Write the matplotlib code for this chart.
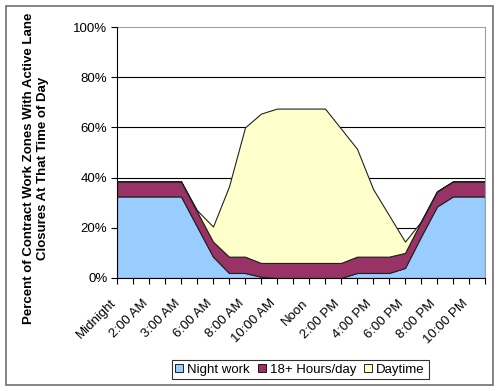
import matplotlib
matplotlib.use("Agg")
import matplotlib.pyplot as plt
from matplotlib.patches import Patch, Rectangle
from matplotlib.transforms import ScaledTranslation
import numpy as np

plt.rcParams['font.family'] = ['Liberation Sans', 'DejaVu Sans']

# hourly values (percent), midnight .. 11 PM
night_work = [32.5, 32.5, 32.5, 32.5, 32.5, 20.5, 8.5, 2, 2, 0.5, 0, 0,
              0, 0, 0, 2, 2, 2, 4, 16.5, 28.5, 32.5, 32.5, 32.5]
hours_18 = [6, 6, 6, 6, 6, 6, 6, 6.5, 6.5, 5.5, 6, 6,
            6, 6, 6, 6.5, 6.5, 6.5, 6, 6, 6, 6, 6, 6]
daytime = [0, 0, 0, 0, 0, 0.5, 6, 28, 51.5, 59.5, 61.5, 61.5,
           61.5, 61.5, 53.5, 43, 27, 16.5, 4.5, 0, 0, 0, 0, 0]

tick_labels = ["Midnight", "2:00 AM", "3:00 AM", "6:00 AM", "8:00 AM", "10:00 AM",
               "Noon", "2:00 PM", "4:00 PM", "6:00 PM", "8:00 PM", "10:00 PM"]
series_names = ["Night work", "18+ Hours/day", "Daytime"]
colors = ["#99CCFF", "#993366", "#FFFFCC"]

fs = 9.5
x = np.arange(len(night_work))

fig = plt.figure(figsize=(5, 3.91), dpi=100)
ax = fig.add_axes([117/500, 1 - 278/391, (485 - 117)/500, (278 - 27)/391])

# gridlines behind the areas
for v in [20, 40, 60, 80]:
    ax.axhline(v, color="black", lw=0.8, zorder=0)

ax.stackplot(x, night_work, hours_18, daytime, colors=colors,
             edgecolor="#222222", linewidth=0.8, zorder=2)

ax.set_xlim(0, len(x) - 1)
ax.set_ylim(0, 100)
ax.set_yticks([0, 20, 40, 60, 80, 100])
ax.set_yticklabels([f"{v}%" for v in [0, 20, 40, 60, 80, 100]], fontsize=fs)
ax.set_xticks(x[::2])
ax.set_xticks(x, minor=True)
ax.set_xticklabels(tick_labels, rotation=45, ha="right", va="center",
                   rotation_mode="anchor", fontsize=fs)
ax.tick_params(axis="x", which="both", direction="out", length=4, width=0.8, pad=13)
ax.tick_params(axis="y", direction="out", length=4, width=0.8, pad=3)
for lbl in ax.get_xticklabels():
    lbl.set_transform(lbl.get_transform() + ScaledTranslation(-3/100, 0, fig.dpi_scale_trans))

for side in ["top", "right"]:
    ax.spines[side].set_color("#a0a0a0")
    ax.spines[side].set_linewidth(0.8)
for side in ["left", "bottom"]:
    ax.spines[side].set_color("black")
    ax.spines[side].set_linewidth(0.8)
    ax.spines[side].set_zorder(3)

fig.text(36/500, 1 - 168/391,
         "Percent of Contract Work Zones With Active Lane\nClosures At That Time of Day",
         rotation=90, ha="center", va="center", fontsize=fs, fontweight="bold",
         multialignment="center", linespacing=1.15)

handles = [Patch(facecolor=c, edgecolor="black", linewidth=0.6) for c in colors]
leg = fig.legend(handles, series_names, loc="center", bbox_to_anchor=(300/500, 1 - 369.5/391),
                 ncol=3, fontsize=fs, frameon=True, fancybox=False,
                 handlelength=0.6, handleheight=0.6, handletextpad=0.3,
                 columnspacing=0.6, borderpad=0.3, borderaxespad=0)
leg.get_frame().set_edgecolor("black")
leg.get_frame().set_linewidth(0.8)

fig.patches.append(Rectangle((6/500, 1 - 385/391), (493 - 6)/500, (385 - 6)/391,
                             transform=fig.transFigure, fill=False,
                             edgecolor="#707070", linewidth=1.2))

fig.savefig("out.png", dpi=100)
